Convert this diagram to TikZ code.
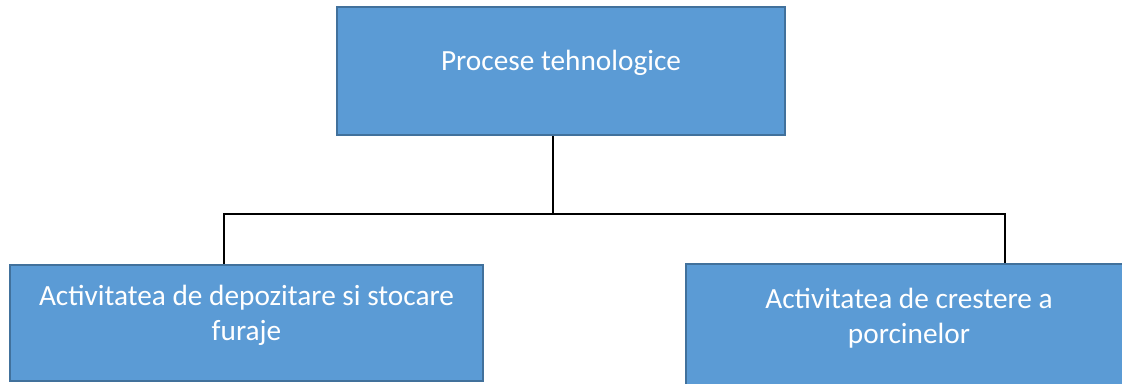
\documentclass[tikz,border=0pt]{standalone}
\usepackage{fontspec}
\setmainfont{Carlito}
\definecolor{boxfill}{HTML}{5B9BD5}
\definecolor{boxline}{HTML}{41719C}
\tikzset{
  box/.style={rectangle, draw=boxline, fill=boxfill, line width=2pt, inner sep=0pt},
  lbl/.style={text=white, font=\fontsize{29.3}{35}\selectfont, align=center, inner sep=0pt},
  conn/.style={draw=black, line width=1.2pt}
}
\begin{document}
\begin{tikzpicture}[x=1pt, y=-1pt]
  \useasboundingbox (0,0) rectangle (1122,383);
  \fill[white] (0,0) rectangle (1122,383);
  % boxes
  \node[box, minimum width=448pt, minimum height=128pt] (top) at (561,71) {};
  \node[box, minimum width=473pt, minimum height=116pt] (left) at (246.5,323) {};
  \node[box, minimum width=446pt, minimum height=122pt] (right) at (909,325) {};
  % captions (base anchor sits on the last line)
  \node[lbl, anchor=base] (toptxt) at (561,70) {Procese tehnologice};
  \node[lbl, anchor=base] (lefttxt) at (246.5,340) {Activitatea de depozitare si stocare\\furaje};
  \node[lbl, anchor=base] (righttxt) at (909,343) {Activitatea de crestere a\\porcinelor};
  % connector junctions
  \coordinate (jm) at (553,214);
  \coordinate (jl) at (224,214);
  \coordinate (jr) at (1005,214);
  \draw[conn] (jm |- top.south) -- (jm);
  \draw[conn] (jl |- left.north) -- (jl) -- (jr) -- (jr |- right.north);
\end{tikzpicture}
\end{document}
